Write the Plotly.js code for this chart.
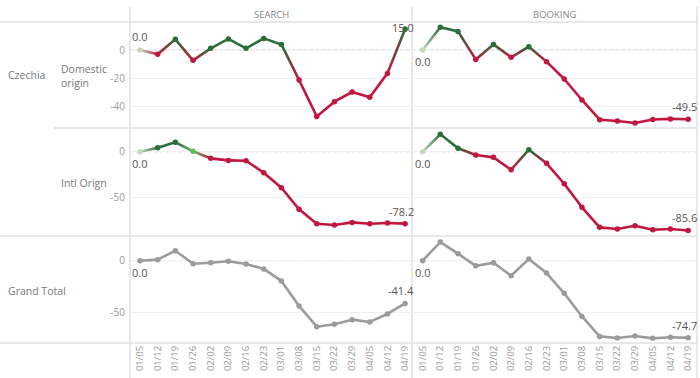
<!DOCTYPE html>
<html><head><meta charset="utf-8">
<script src="https://cdn.plot.ly/plotly-3.0.1.min.js"></script>
<style>html,body{margin:0;padding:0;background:#fff;}#chart{width:700px;height:378px;}</style>
</head><body><div id="chart"></div>
<script>
const dates = ['01/05','01/12','01/19','01/26','02/02','02/09','02/16','02/23','03/01','03/08','03/15','03/22','03/29','04/05','04/12','04/19'];
const columns = ['SEARCH','BOOKING'];
const rowHeaders = ['Czechia','Domestic<br>origin','Intl Orign','Grand Total'];
const searchDomestic = [0,-3,7.6,-7.4,1.2,7.9,1.2,8.3,4,-21.4,-47.4,-36.9,-30,-33.8,-16.7,15.0];
const bookingDomestic = [0,16.2,13.3,-6.7,4,-5.2,2.4,-8.3,-20.7,-35.7,-49.8,-50.7,-52.1,-49.6,-49.2,-49.5];
const searchIntl = [0,4.4,10.2,0.5,-7.2,-9.4,-9.8,-22.8,-39.1,-62.6,-78.3,-79.7,-76.8,-78.3,-77.5,-78.2];
const bookingIntl = [0,18.9,3.7,-3.6,-6.1,-19.6,2.2,-12.6,-34.8,-60.4,-82.2,-84,-80.4,-84.8,-84,-85.6];
const searchTotal = [0,1,9.7,-3,-2,-0.5,-3.2,-8,-19.6,-43.8,-63.9,-61.6,-57.1,-59.3,-51.6,-41.4];
const bookingTotal = [0,18,6.8,-5,-2,-14.5,1.6,-12,-31.6,-54,-73.3,-74.9,-73,-75.2,-74.2,-74.7];

const W = 700, H = 378;
const GREEN = [43,110,59], RED = [193,22,63], NEUTRAL = [200,216,192], LIGHTG = [104,184,104], GRAY = [155,155,155];
function pointColor(v, colored){
  if(!colored) return GRAY;
  if(v === 0) return NEUTRAL;
  if(v > 0 && v < 1) return LIGHTG;
  return v > 0 ? GREEN : RED;
}
function rgb(c){return 'rgb('+c.map(Math.round).join(',')+')';}
function mix(a,b){return [0,1,2].map(i=>(a[i]+b[i])/2);}

const colX = [[130,412],[412,697]];
const rowY = [[22,128],[128,236],[236,343]];
const xRanges = [[-0.566,15.39],[-0.6,15.5]];
const yRanges = [[-55.7,20],[-91.6,25.8],[-79.7,23.9]];
const yTicks = [[0,-20,-40],[0,-50],[0,-50]];
const panels = [
  [searchDomestic, bookingDomestic],
  [searchIntl, bookingIntl],
  [searchTotal, bookingTotal]
];

const traces = [];
const layout = {
  width: W, height: H, margin:{l:0,r:0,t:0,b:0},
  paper_bgcolor:'#fff', plot_bgcolor:'rgba(0,0,0,0)',
  showlegend:false, font:{family:'Open Sans, sans-serif', color:'#888'},
  shapes:[], annotations:[]
};
const fontFam = 'Open Sans, sans-serif';
let k = 0;
for(let r=0;r<3;r++){
  for(let c=0;c<2;c++){
    k++;
    const xa = 'x'+(k===1?'':k), ya = 'y'+(k===1?'':k);
    const xkey = 'xaxis'+(k===1?'':k), ykey = 'yaxis'+(k===1?'':k);
    const vals = panels[r][c];
    const colored = r < 2;
    layout[xkey] = {
      domain:[colX[c][0]/W, colX[c][1]/W], anchor: ya,
      type:'category', categoryorder:'array', categoryarray: dates,
      range: xRanges[c], showgrid:false, zeroline:false, showline:false,
      showticklabels: r===2, tickangle:-90, ticks:'',
      tickfont:{family:fontFam, size:9.5, color:'#999'}, fixedrange:true
    };
    layout[ykey] = {
      domain:[1-rowY[r][1]/H, 1-rowY[r][0]/H], anchor: xa,
      range: yRanges[r], tickvals: yTicks[r], ticktext: yTicks[r].map(String),
      showticklabels: c===0, showgrid:true, gridcolor:'#f0f0f0', gridwidth:1,
      zeroline:false, showline:false, ticks:'', ticklabelstandoff:4,
      tickfont:{family:fontFam, size:10, color:'#999'}, fixedrange:true
    };
    layout.shapes.push({type:'line', xref: xa+' domain', yref: ya, x0:0, x1:1, y0:0, y1:0,
      line:{color:'#c4c4c4', width:1, dash:'dot'}, layer:'below'});
    for(let i=0;i<vals.length-1;i++){
      const ca = pointColor(vals[i],colored), cb = pointColor(vals[i+1],colored);
      traces.push({x:[dates[i],dates[i+1]], y:[vals[i],vals[i+1]], xaxis:xa, yaxis:ya,
        mode:'lines', line:{color:rgb(mix(ca,cb)), width:2.6}, hoverinfo:'skip',
        meta:[rgb(ca), rgb(cb)]});
    }
    traces.push({x:dates, y:vals, xaxis:xa, yaxis:ya, mode:'markers',
      marker:{size:5.5, color: vals.map(v=>rgb(pointColor(v,colored)))}, hoverinfo:'x+y'});
    const firstAbove = (r===0 && c===0);
    layout.annotations.push({xref:xa, yref:ya, x:dates[0], y:vals[0], text: vals[0].toFixed(1),
      showarrow:false, xanchor:'left', yanchor: firstAbove?'bottom':'top',
      xshift:-10, yshift: firstAbove?4:-2, font:{family:fontFam, size:11, color:'#555'}});
    const last = vals[vals.length-1];
    const special = (r===0 && c===0);
    layout.annotations.push({xref:xa, yref:ya, x:dates[dates.length-1], y:last, text:last.toFixed(1),
      showarrow:false, xanchor:'center', yanchor: special?'middle':'bottom',
      xshift: special?-2:-4, yshift: special?1:3, font:{family:fontFam, size:11, color:'#555'}});
  }
}
columns.forEach((t,c)=>{
  layout.annotations.push({xref:'paper', yref:'paper', x:(colX[c][0]+colX[c][1])/2/W, y:1-15/H,
    text:t, showarrow:false, xanchor:'center', yanchor:'middle', font:{family:fontFam, size:9.5, color:'#888'}});
});
const rowHeadPos = [[6,75],[59,76],[59,183],[6,291]];
rowHeaders.forEach((t,i)=>{
  layout.annotations.push({xref:'paper', yref:'paper', x:rowHeadPos[i][0]/W, y:1-rowHeadPos[i][1]/H,
    text:t, showarrow:false, xanchor:'left', yanchor:'middle', align:'left',
    font:{family:fontFam, size:10.5, color:'#777'}});
});
const bc = '#e0e0e0';
function pline(x0,y0,x1,y1){layout.shapes.push({type:'line', xref:'paper', yref:'paper',
  x0:x0/W, x1:x1/W, y0:1-y0/H, y1:1-y1/H, line:{color:bc, width:1.5}, layer:'below'});}
pline(0,22,697,22); pline(54,128,697,128); pline(0,236,697,236); pline(0,343,697,343);
pline(130,7,130,378); pline(412,7,412,378); pline(697,7,697,378);

Plotly.newPlot('chart', traces, layout, {staticPlot:true, displayModeBar:false}).then(gd=>{
  // apply per-segment colour gradients (styling only)
  const svg = gd.querySelector('.main-svg');
  const NS = 'http://www.w3.org/2000/svg';
  let defs = svg.querySelector('defs');
  if(!defs){defs = document.createElementNS(NS,'defs'); svg.insertBefore(defs, svg.firstChild);}
  let n = 0;
  gd.querySelectorAll('.scatterlayer .trace').forEach(g=>{
    const cd = g.__data__; if(!cd || !cd[0] || !cd[0].trace) return;
    const tr = cd[0].trace; if(!tr.meta || tr.meta.length!==2 || tr.meta[0]===tr.meta[1]) return;
    const p = g.querySelector('path.js-line'); if(!p) return;
    const nums = (p.getAttribute('d')||'').match(/-?\d+(\.\d+)?/g); if(!nums || nums.length<4) return;
    const x1 = nums[0], y1 = nums[1], x2 = nums[nums.length-2], y2 = nums[nums.length-1];
    const id = 'seggrad'+(n++);
    const lg = document.createElementNS(NS,'linearGradient');
    lg.setAttribute('id', id); lg.setAttribute('gradientUnits','userSpaceOnUse');
    lg.setAttribute('x1',x1); lg.setAttribute('y1',y1); lg.setAttribute('x2',x2); lg.setAttribute('y2',y2);
    [[0,tr.meta[0]],[1,tr.meta[1]]].forEach(([o,c])=>{
      const s = document.createElementNS(NS,'stop'); s.setAttribute('offset',o); s.setAttribute('stop-color',c); lg.appendChild(s);
    });
    defs.appendChild(lg);
    p.style.stroke = 'url(#'+id+')';
  });
});
</script></body></html>
